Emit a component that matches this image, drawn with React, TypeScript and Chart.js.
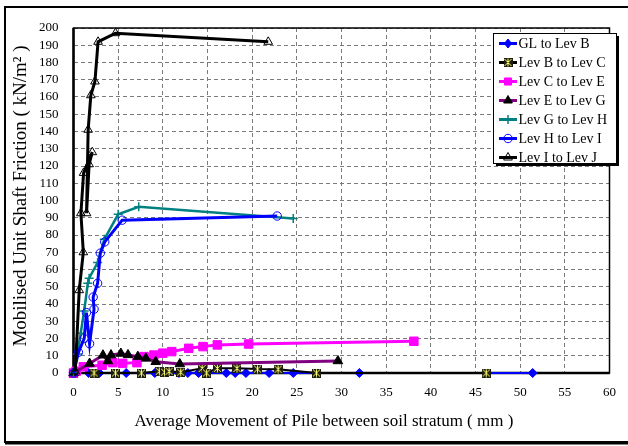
import React, { useEffect, useRef } from 'react';
import { Chart, registerables } from 'chart.js';

Chart.register(...registerables);

// ---- data ----
const seriesNames = [
  'GL to Lev B',
  'Lev B to Lev C',
  'Lev C to Lev E',
  'Lev E to Lev G',
  'Lev G to Lev H',
  'Lev H to Lev I',
  'Lev I to Lev J',
];

const glB_x = [0, 1.7, 2.9, 5.9, 9.1, 11.8, 12.8, 14.0, 17.1, 18.1, 19.3, 21.9, 24.6, 32.0, 51.4];
const glB_y = [0, 0, 0, 0, 0, 0, 0, 0, 0, 0, 0, 0, 0, 0, 0];

const bC_x = [0, 2.3, 4.7, 7.6, 9.6, 10.2, 10.7, 12.0, 14.4, 14.9, 16.1, 18.3, 20.6, 22.9, 27.2, 46.2];
const bC_y = [0, 0, 0, 0, 1, 0.5, 1, 0.5, 2.7, 0, 2.7, 2.7, 2.3, 2.2, 0, 0];

const cE_x = [0, 0.3, 1.1, 3.2, 4.4, 5.5, 7.1, 7.9, 9.0, 10.0, 11.0, 12.9, 14.5, 16.1, 19.6, 38.1];
const cE_y = [0, 1, 3.6, 4.5, 6, 5.6, 6, 9.5, 10.4, 11.5, 12.4, 14.3, 15.3, 16.3, 16.8, 18.4];

const eG_x = [0, 1.8, 3.3, 3.85, 4.2, 5.3, 6.1, 7.2, 8.1, 9.2, 11.9, 29.6];
const eG_y = [0, 5.5, 10.3, 7, 10.4, 11.3, 10.5, 9.5, 8.5, 6.5, 5.2, 7];

const gH_x = [0, 0.45, 0.8, 1.2, 1.6, 1.75, 2.7, 3.45, 5.0, 7.3, 24.6];
const gH_y = [0, 11, 23, 36, 52, 55, 64, 77.5, 92, 96.4, 89.5];

const hI_x = [0, 0.55, 1.2, 1.45, 1.8, 2.3, 2.2, 2.7, 3.0, 3.5, 5.45, 22.8];
const hI_y = [0, 12, 20, 35, 17, 37, 44, 52, 69.5, 76, 88.6, 91];

const iJ_x = [0.2, 0.64, 1.1, 0.83, 1.13, 2.1, 1.75, 1.46, 1.64, 1.94, 2.4, 2.75, 4.7, 21.8];
const iJ_y = [1, 48, 70, 92.6, 116, 128, 121, 92.6, 141, 161, 169, 192, 197, 192];

const xTicks = [0, 5, 10, 15, 20, 25, 30, 35, 40, 45, 50, 55, 60];
const yTickStep = 10;
const yMax = 200;

const xTitle = 'Average Movement of Pile between soil stratum ( mm )';
const yTitle = 'Mobilised Unit Shaft Friction ( kN/m\u00B2 )';

const SERIF = '"Liberation Serif", "Times New Roman", serif';

function pts(xs: number[], ys: number[]) {
  return xs.map((x, i) => ({ x, y: ys[i] }));
}

function makeBCMarker(): HTMLCanvasElement {
  const c = document.createElement('canvas');
  c.width = 9;
  c.height = 9;
  const g = c.getContext('2d')!;
  g.fillStyle = '#1e1e10';
  g.fillRect(0, 0, 9, 9);
  g.strokeStyle = '#ffff70';
  g.lineWidth = 1;
  g.beginPath();
  g.moveTo(1, 1); g.lineTo(8, 8);
  g.moveTo(8, 1); g.lineTo(1, 8);
  g.moveTo(4.5, 0.5); g.lineTo(4.5, 8.5);
  g.stroke();
  return c;
}

function drawMarker(ctx: CanvasRenderingContext2D, style: any, r: number, x: number, y: number, fill: string, stroke: string, bw: number) {
  ctx.save();
  ctx.fillStyle = fill;
  ctx.strokeStyle = stroke;
  ctx.lineWidth = bw;
  ctx.setLineDash([]);
  if (typeof style !== 'string') {
    ctx.drawImage(style, x - style.width / 2, y - style.height / 2);
    ctx.restore();
    return;
  }
  ctx.beginPath();
  if (style === 'rectRot') {
    ctx.moveTo(x, y - r);
    ctx.lineTo(x + r * 0.8, y);
    ctx.lineTo(x, y + r);
    ctx.lineTo(x - r * 0.8, y);
    ctx.closePath();
    ctx.fill();
    ctx.stroke();
  } else if (style === 'rect') {
    const s = r * Math.SQRT1_2;
    ctx.rect(x - s, y - s, 2 * s, 2 * s);
    ctx.fill();
    ctx.stroke();
  } else if (style === 'triangle') {
    ctx.moveTo(x, y - r);
    ctx.lineTo(x + r * 0.866, y + r * 0.5);
    ctx.lineTo(x - r * 0.866, y + r * 0.5);
    ctx.closePath();
    ctx.fill();
    ctx.stroke();
  } else if (style === 'cross') {
    ctx.moveTo(x, y - r);
    ctx.lineTo(x, y + r);
    ctx.moveTo(x - r, y);
    ctx.lineTo(x + r, y);
    ctx.stroke();
  } else if (style === 'circle') {
    ctx.arc(x, y, r, 0, Math.PI * 2);
    ctx.fill();
    ctx.stroke();
  }
  ctx.restore();
}

export default function App() {
  const ref = useRef<HTMLCanvasElement>(null);

  useEffect(() => {
    document.body.style.margin = '0';
    const canvas = ref.current!;
    const bcMarker = makeBCMarker();

    const styles = [
      { color: '#0000FF', width: 2, pointStyle: 'rectRot', radius: 4.5, bg: '#0000FF', bw: 1 },
      { color: '#000000', width: 2, pointStyle: bcMarker, radius: 4.5, bg: '#000', bw: 1 },
      { color: '#FF00FF', width: 3, pointStyle: 'rect', radius: 6, bg: '#FF00FF', bw: 1 },
      { color: '#800080', width: 3, pointStyle: 'triangle', radius: 5.5, bg: '#000000', bw: 1, pointBorder: '#000000' },
      { color: '#008080', width: 2.5, pointStyle: 'cross', radius: 4.5, bg: 'rgba(0,0,0,0)', bw: 1.5 },
      { color: '#0000FF', width: 3, pointStyle: 'circle', radius: 4.2, bg: 'rgba(0,0,0,0)', bw: 1 },
      { color: '#000000', width: 3, pointStyle: 'triangle', radius: 5, bg: 'rgba(0,0,0,0)', bw: 1 },
    ];
    const allData = [
      pts(glB_x, glB_y),
      pts(bC_x, bC_y),
      pts(cE_x, cE_y),
      pts(eG_x, eG_y),
      pts(gH_x, gH_y),
      pts(hI_x, hI_y),
      pts(iJ_x, iJ_y),
    ];

    const datasets = seriesNames.map((name, i) => {
      const s: any = styles[i];
      return {
        label: name,
        data: allData[i],
        showLine: true,
        borderColor: s.color,
        borderWidth: s.width,
        backgroundColor: s.color,
        pointStyle: s.pointStyle,
        pointRadius: s.radius,
        pointHoverRadius: s.radius,
        pointBackgroundColor: s.bg,
        pointBorderColor: s.pointBorder || s.color,
        pointBorderWidth: s.bw,
        tension: 0,
        clip: 8,
        order: 7 - i,
      };
    });

    const framePlugin = {
      id: 'frame',
      beforeDraw(chart: any) {
        const ctx = chart.ctx;
        ctx.save();
        ctx.fillStyle = '#ffffff';
        ctx.fillRect(0, 0, chart.width, chart.height);
        ctx.strokeStyle = '#000';
        ctx.lineWidth = 2;
        ctx.strokeRect(5, 7, 700, 435);
        ctx.lineWidth = 3;
        ctx.beginPath();
        ctx.moveTo(5, 443);
        ctx.lineTo(700, 443);
        ctx.stroke();
        ctx.restore();
      },
      beforeDatasetsDraw(chart: any) {
        const { ctx, chartArea: a } = chart;
        ctx.save();
        ctx.strokeStyle = '#000';
        ctx.lineWidth = 1.5;
        ctx.strokeRect(a.left, a.top, a.right - a.left, a.bottom - a.top);
        ctx.lineWidth = 2.5;
        ctx.beginPath();
        ctx.moveTo(a.left, a.top);
        ctx.lineTo(a.left, a.bottom);
        ctx.lineTo(a.right, a.bottom);
        ctx.stroke();
        ctx.restore();
      },
    };

    const titlesPlugin = {
      id: 'axisTitles',
      afterDraw(chart: any) {
        const ctx = chart.ctx;
        ctx.save();
        ctx.fillStyle = '#000';
        ctx.textAlign = 'center';
        ctx.textBaseline = 'middle';
        ctx.font = `17px ${SERIF}`;
        ctx.fillText(xTitle, 324, 422);
        ctx.translate(21, 196);
        ctx.rotate(-Math.PI / 2);
        ctx.font = `19px ${SERIF}`;
        ctx.fillText(yTitle, 0, 0);
        ctx.restore();
      },
    };

    const legendPlugin = {
      id: 'boxLegend',
      afterDraw(chart: any) {
        const ctx = chart.ctx;
        const bx = 493, by = 33, bw = 123, bh = 130;
        ctx.save();
        ctx.fillStyle = '#000';
        ctx.fillRect(bx + 3, by + 3, bw, bh);
        ctx.fillStyle = '#fff';
        ctx.fillRect(bx, by, bw, bh);
        ctx.strokeStyle = '#000';
        ctx.lineWidth = 1;
        ctx.strokeRect(bx + 0.5, by + 0.5, bw, bh);
        const rowH = 19;
        chart.data.datasets.forEach((ds: any, i: number) => {
          const cy = by + 10.5 + i * rowH;
          ctx.strokeStyle = ds.borderColor;
          ctx.lineWidth = 3;
          ctx.beginPath();
          ctx.moveTo(499, cy);
          ctx.lineTo(517, cy);
          ctx.stroke();
          drawMarker(ctx, ds.pointStyle, Math.min(ds.pointRadius, 5), 508, cy, ds.pointBackgroundColor, ds.pointBorderColor, ds.pointBorderWidth);
          ctx.fillStyle = '#000';
          ctx.font = `14px ${SERIF}`;
          ctx.textAlign = 'left';
          ctx.textBaseline = 'middle';
          ctx.fillText(ds.label, 518.5, cy + 0.5);
        });
        ctx.restore();
      },
    };

    const tickFont = { family: SERIF, size: 13 };

    const chart = new Chart(canvas, {
      type: 'scatter',
      data: { datasets: datasets as any },
      options: {
        responsive: false,
        devicePixelRatio: 1,
        animation: false,
        layout: { padding: { left: 0, right: 13, top: 28, bottom: 0 } },
        plugins: {
          legend: { display: false },
          tooltip: { enabled: false },
          title: { display: false },
        },
        scales: {
          x: {
            type: 'linear',
            min: xTicks[0],
            max: xTicks[xTicks.length - 1],
            afterBuildTicks: (scale: any) => {
              scale.ticks = xTicks.map((v) => ({ value: v }));
            },
            afterFit: (scale: any) => {
              scale.height = 73;
            },
            ticks: { font: tickFont, color: '#000', padding: 12, autoSkip: false, maxRotation: 0 },
            grid: { color: '#7a7a7a', lineWidth: 1, drawTicks: false },
            border: { display: false, dash: [4, 3] },
          },
          y: {
            type: 'linear',
            min: 0,
            max: yMax,
            ticks: { stepSize: yTickStep, font: tickFont, color: '#000', padding: 15, autoSkip: false },
            afterFit: (scale: any) => {
              scale.width = 73.5;
            },
            grid: { color: '#7a7a7a', lineWidth: 1, drawTicks: false },
            border: { display: false, dash: [4, 3] },
          },
        },
      },
      plugins: [framePlugin, titlesPlugin, legendPlugin],
    } as any);

    return () => chart.destroy();
  }, []);

  return (
    <canvas
      ref={ref}
      width={628}
      height={446}
      style={{ display: 'block', width: '628px', height: '446px' }}
    />
  );
}
